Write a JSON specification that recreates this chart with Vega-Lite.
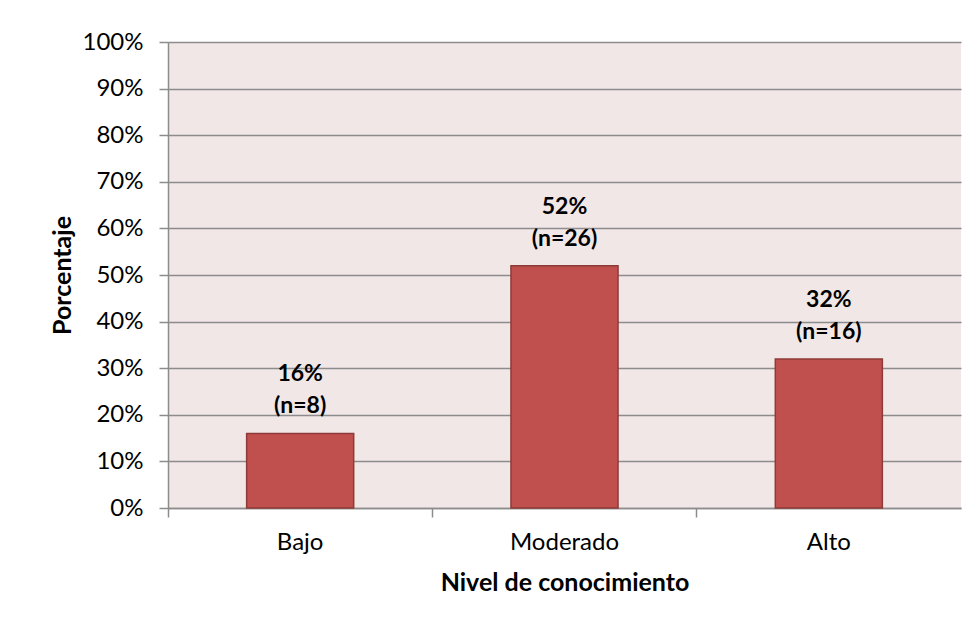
{
  "$schema": "https://vega.github.io/schema/vega-lite/v6.json",
  "autosize": "none",
  "width": 793,
  "height": 466,
  "padding": {"left": 168, "top": 42, "right": 18, "bottom": 121},
  "background": "#ffffff",
  "data": {
    "values": [
      {"nivel": "Bajo", "pct": 0.16, "n": 8},
      {"nivel": "Moderado", "pct": 0.52, "n": 26},
      {"nivel": "Alto", "pct": 0.32, "n": 16}
    ]
  },
  "transform": [
    {"calculate": "format(datum.pct, '.0%') + '\\n(n=' + datum.n + ')'", "as": "etiqueta"}
  ],
  "config": {
    "font": "Lato",
    "view": {"fill": "#F2E7E7", "stroke": null},
    "axis": {
      "labelFont": "Lato",
      "titleFont": "Lato",
      "labelColor": "#000000",
      "titleColor": "#000000",
      "labelFontSize": 24,
      "titleFontSize": 25,
      "titleFontWeight": "bold",
      "domainColor": "#8C8C8C",
      "domainWidth": 1.5,
      "tickColor": "#8C8C8C",
      "tickWidth": 1.5,
      "tickSize": 9,
      "gridColor": "#8C8C8C",
      "gridWidth": 1.5
    }
  },
  "layer": [
    {
      "mark": {
        "type": "bar",
        "width": {"band": 0.405},
        "fill": "#C0504D",
        "stroke": "#8E3A38",
        "strokeWidth": 1.5
      },
      "encoding": {
        "x": {
          "field": "nivel",
          "type": "nominal",
          "sort": ["Bajo", "Moderado", "Alto"],
          "scale": {"paddingInner": 0, "paddingOuter": 0},
          "axis": {
            "title": "Nivel de conocimiento",
            "labelAngle": 0,
            "bandPosition": 0,
            "labelPadding": 13,
            "titlePadding": 16,
            "grid": false
          }
        },
        "y": {
          "field": "pct",
          "type": "quantitative",
          "scale": {"domain": [0, 1]},
          "axis": {
            "title": "Porcentaje",
            "format": ".0%",
            "values": [0, 0.1, 0.2, 0.3, 0.4, 0.5, 0.6, 0.7, 0.8, 0.9, 1],
            "labelPadding": 16,
            "titlePadding": 7,
            "grid": true
          }
        }
      }
    },
    {
      "mark": {
        "type": "text",
        "font": "Lato",
        "fontSize": 23,
        "fontWeight": "bold",
        "color": "#000000",
        "baseline": "alphabetic",
        "lineBreak": "\n",
        "lineHeight": 32,
        "dy": -52
      },
      "encoding": {
        "x": {"field": "nivel", "type": "nominal", "sort": ["Bajo", "Moderado", "Alto"]},
        "y": {"field": "pct", "type": "quantitative"},
        "text": {"field": "etiqueta"}
      }
    }
  ]
}
